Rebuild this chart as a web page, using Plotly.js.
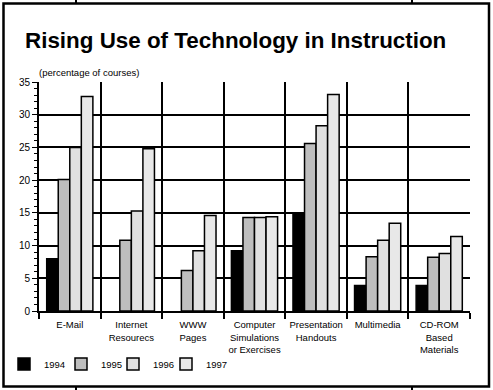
<!DOCTYPE html>
<html>
<head>
<meta charset="utf-8">
<script src="https://cdn.plot.ly/plotly-3.0.1.min.js"></script>
<style>
html,body{margin:0;padding:0;background:#fff;}
#chart{width:493px;height:390px;}
</style>
</head>
<body>
<div id="chart"></div>
<script>
var categories = ["E-Mail", "Internet<br>Resourecs", "WWW<br>Pages", "Computer<br>Simulations<br>or Exercises", "Presentation<br>Handouts", "Multimedia", "CD-ROM<br>Based<br>Materials"];
var years = ["1994", "1995", "1996", "1997"];
var v1994 = [8.0, 0, 0, 9.2, 15.0, 3.9, 3.9];
var v1995 = [20.1, 10.8, 6.2, 14.3, 25.6, 8.3, 8.2];
var v1996 = [25.0, 15.3, 9.2, 14.3, 28.3, 10.8, 8.8];
var v1997 = [32.8, 24.8, 14.6, 14.4, 33.1, 13.4, 11.4];
var yTicks = [0, 5, 10, 15, 20, 25, 30, 35];

var series = [v1994, v1995, v1996, v1997];
var fills = ["#000000", "#bebebe", "#e0e0e0", "#e8e8e8"];
var legendLeft = [4, 61, 113, 166];   // px from left edge of the page
var font = "Liberation Sans, Arial, Helvetica, sans-serif";

// plot area: x 39..470, y 82..311
function px(x) { return (x - 39) / 431; }
function py(y) { return (311 - y) / 229; }

var legendIds = ["legend", "legend2", "legend3", "legend4"];

var traces = series.map(function (vals, i) {
  return {
    type: "bar",
    name: years[i],
    legend: legendIds[i],
    x: categories,
    y: vals.map(function (v) { return v === 0 ? null : v; }),
    marker: {color: fills[i], line: {color: "#000", width: 1.5}},
    hoverinfo: "x+y+name"
  };
});

var layout = {
  width: 493, height: 390,
  margin: {l: 39, r: 23, t: 82, b: 79, pad: 0, autoexpand: false},
  paper_bgcolor: "#fff", plot_bgcolor: "#fff",
  font: {family: font, color: "#000", size: 10},
  barmode: "group", bargap: 0.25, bargroupgap: 0,
  title: {
    text: "<b>Rising Use of Technology in Instruction</b>",
    font: {family: font, size: 22.4, color: "#000"},
    x: 25 / 493, xanchor: "left", xref: "container",
    y: 1 - 40 / 390, yanchor: "middle", yref: "container"
  },
  xaxis: {
    type: "category",
    tickson: "boundaries",
    tickangle: 0,
    ticks: "outside", ticklen: 6, tickwidth: 2, tickcolor: "#000",
    ticklabelstandoff: 4,
    showgrid: true, gridcolor: "#000", gridwidth: 2,
    showline: true, linecolor: "#000", linewidth: 2,
    tickfont: {family: font, size: 9.5, color: "#000"},
    fixedrange: true
  },
  yaxis: {
    range: [0, 35],
    tickvals: yTicks, ticktext: yTicks.map(String),
    ticks: "outside", ticklen: 5, tickwidth: 1, tickcolor: "#000",
    minor: {dtick: 1, ticks: "outside", ticklen: 3, tickcolor: "#000", tickwidth: 1, showgrid: false},
    showgrid: true, gridcolor: "#000", gridwidth: 2,
    showline: true, linecolor: "#000", linewidth: 2,
    zeroline: false,
    tickfont: {family: font, size: 10, color: "#000"},
    fixedrange: true
  },
  showlegend: true,
  annotations: [{
    text: "(percentage of courses)",
    xref: "paper", yref: "paper", x: px(37), y: 1,
    xanchor: "left", yanchor: "bottom", yshift: 2,
    showarrow: false, font: {family: font, size: 9.5, color: "#000"}
  }],
  shapes: [
    {type: "rect", xref: "paper", yref: "paper", x0: px(3.5), x1: px(489), y0: py(3.5), y1: py(386.5),
     line: {color: "#000", width: 2.5}, fillcolor: "rgba(0,0,0,0)", layer: "above"},
    {type: "line", xref: "paper", yref: "paper", x0: px(76), x1: px(76), y0: py(0), y1: py(3.5), line: {color: "#000", width: 2}},
    {type: "line", xref: "paper", yref: "paper", x0: px(412), x1: px(412), y0: py(0), y1: py(3.5), line: {color: "#000", width: 2}},
    {type: "line", xref: "paper", yref: "paper", x0: px(76), x1: px(76), y0: py(386.5), y1: py(390), line: {color: "#000", width: 2}},
    {type: "line", xref: "paper", yref: "paper", x0: px(412), x1: px(412), y0: py(386.5), y1: py(390), line: {color: "#000", width: 2}}
  ]
};

legendIds.forEach(function (id, i) {
  layout[id] = {
    orientation: "h",
    x: px(legendLeft[i]), xanchor: "left",
    y: py(364), yanchor: "middle",
    font: {family: font, size: 9.5, color: "#000"},
    bgcolor: "rgba(0,0,0,0)"
  };
});

Plotly.newPlot("chart", traces, layout, {displayModeBar: false, staticPlot: true});
</script>
</body>
</html>
